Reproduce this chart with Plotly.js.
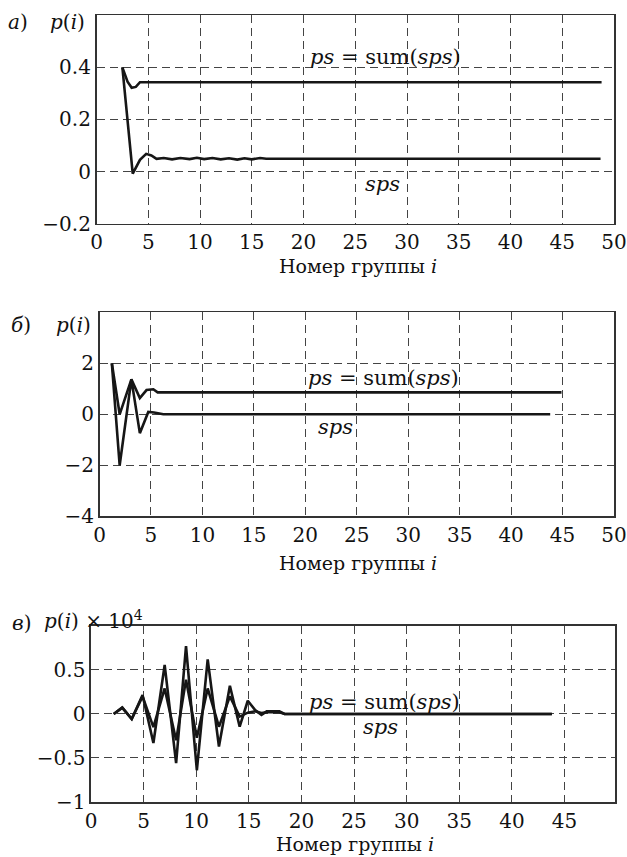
<!DOCTYPE html>
<html>
<head>
<meta charset="utf-8">
<script src="https://cdn.plot.ly/plotly-3.0.1.min.js"></script>
<style>html,body{margin:0;padding:0;background:#fff;}#chart{width:627px;height:857px;}</style>
</head>
<body>
<div id="chart"></div>
<script>
// ---- Panel а) ----
const aPsX  = [2.5, 3.0, 3.4, 3.8, 4.2, 48.8];
const aPsY  = [0.40, 0.345, 0.322, 0.325, 0.343, 0.343];
const aSpsX = [2.5, 3.5, 4.2, 4.8, 5.3, 5.8, 6.5, 7.3, 8.1, 9.0, 9.7, 10.4, 11.2, 12.0, 12.8, 13.6, 14.3, 15.0, 15.8, 16.4, 48.7];
const aSpsY = [0.40, -0.008, 0.045, 0.068, 0.062, 0.049, 0.052, 0.047, 0.052, 0.048, 0.053, 0.048, 0.052, 0.047, 0.051, 0.046, 0.051, 0.047, 0.052, 0.049, 0.049];

// ---- Panel б) ----
const bPsX  = [1.2, 1.96, 3.1, 3.92, 4.57, 5.23, 5.65, 44.9];
const bPsY  = [2, 0, 1.37, 0.64, 0.95, 0.98, 0.86, 0.86];
const bSpsX = [1.2, 1.96, 3.1, 3.92, 4.74, 5.3, 6.2, 43.8];
const bSpsY = [2, -2, 1.37, -0.74, 0.09, 0.07, 0, 0];

// ---- Panel в) (values ×10^4) ----
const cX    = [2.16, 2.97, 3.87, 4.9, 5.93, 7.0, 8.09, 9.03, 10.06, 11.09, 12.16, 13.2, 14.13, 14.9, 15.6, 16.2, 16.7, 17.9, 18.4, 43.8];
const cSpsY = [0, 0.072, -0.057, 0.216, -0.33, 0.557, -0.56, 0.77, -0.64, 0.62, -0.37, 0.32, -0.145, 0.15, 0.045, -0.01, 0.03, 0.03, 0, 0];
const cPsY  = [0, 0.072, -0.057, 0.20, -0.15, 0.29, -0.30, 0.39, -0.27, 0.29, -0.145, 0.20, -0.03, 0.015, 0.03, 0.01, 0.02, 0.02, 0, 0];

// ---- Tick labels ----
const xTicksAB = [0, 5, 10, 15, 20, 25, 30, 35, 40, 45, 50];
const xTicksC  = [0, 5, 10, 15, 20, 25, 30, 35, 40, 45];
const yTicksA = [-0.2, 0, 0.2, 0.4];
const yTextA  = ['\u22120.2', '0', '0.2', '0.4'];
const yTicksB = [-4, -2, 0, 2];
const yTextB  = ['\u22124', '\u22122', '0', '2'];
const yTicksC = [-1, -0.5, 0, 0.5];
const yTextC  = ['\u22121', '\u22120.5', '0', '0.5'];
const xTitle = 'Номер группы <i>i</i>';

const W = 627, H = 857;
const FONT = '"DejaVu Serif", serif';
const lineStyle = {color: '#161616', width: 2.6};

function tr(x, y, xa, ya, name) {
  return {x: x, y: y, xaxis: xa, yaxis: ya, name: name, type: 'scatter', mode: 'lines', line: lineStyle, hoverinfo: 'skip', showlegend: false};
}
const data = [
  tr(aPsX, aPsY, 'x', 'y', 'ps'), tr(aSpsX, aSpsY, 'x', 'y', 'sps'),
  tr(bPsX, bPsY, 'x2', 'y2', 'ps'), tr(bSpsX, bSpsY, 'x2', 'y2', 'sps'),
  tr(cX, cPsY, 'x3', 'y3', 'ps'), tr(cX, cSpsY, 'x3', 'y3', 'sps')
];

function dx(l, r) { return [l / W, r / W]; }
function dy(t, b) { return [1 - b / H, 1 - t / H]; }

const tickFont = {family: FONT, size: 20, color: '#111'};
function axisCommon() {
  return {tickmode: 'array', showline: true, mirror: true, linecolor: '#333', linewidth: 1.6, ticks: '', zeroline: false,
    showgrid: true, gridcolor: '#444', gridwidth: 1, griddash: '8px,5px', tickfont: tickFont,
    automargin: false, fixedrange: true, ticklabeloverflow: 'allow'};
}
function xax(dom, range, ticks, anchor) {
  return Object.assign(axisCommon(), {domain: dom, range: range, tickvals: ticks, ticktext: ticks.map(String), anchor: anchor});
}
function yax(dom, range, ticks, text, anchor) {
  return Object.assign(axisCommon(), {domain: dom, range: range, tickvals: ticks, ticktext: text, anchor: anchor});
}

function ann(text, x, y, size) {
  return {text: text, x: x / W, y: 1 - y / H, xref: 'paper', yref: 'paper', showarrow: false,
    xanchor: 'center', yanchor: 'middle', font: {family: FONT, size: size || 21, color: '#111'}};
}

const layout = {
  width: W, height: H,
  margin: {l: 0, r: 0, t: 0, b: 0},
  paper_bgcolor: '#fff', plot_bgcolor: '#fff',
  showlegend: false,
  xaxis:  xax(dx(96.5, 614), [-0.0001, 50.0001], xTicksAB, 'y'),
  yaxis:  yax(dy(15.3, 223.7), [-0.2001, 0.6], yTicksA, yTextA, 'x'),
  xaxis2: xax(dx(99.5, 614), [-0.0001, 50.0001], xTicksAB, 'y2'),
  yaxis2: yax(dy(312.3, 516.3), [-4.001, 4], yTicksB, yTextB, 'x2'),
  xaxis3: xax(dx(91, 615), [-0.0001, 49.8], xTicksC, 'y3'),
  yaxis3: yax(dy(626, 802), [-1.001, 1], yTicksC, yTextC, 'x3'),
  annotations: [
    ann('<i>а</i>)', 18, 22, 20), ann('<i>p</i>(<i>i</i>)', 67, 22, 20),
    ann('<i>ps</i> = sum(<i>sps</i>)', 385, 57), ann('<i>sps</i>', 382, 184),
    ann(xTitle, 358, 266, 19),
    ann('<i>б</i>)', 21, 325, 20), ann('<i>p</i>(<i>i</i>)', 73, 325, 20),
    ann('<i>ps</i> = sum(<i>sps</i>)', 383, 378), ann('<i>sps</i>', 335, 427),
    ann(xTitle, 358, 563, 19),
    ann('<i>в</i>)', 21, 623, 20), ann('<i>p</i>(<i>i</i>) × 10<sup>4</sup>', 93, 620, 20),
    ann('<i>ps</i> = sum(<i>sps</i>)', 384, 702), ann('<i>sps</i>', 381, 727),
    ann(xTitle, 355, 844, 19)
  ]
};

Plotly.newPlot('chart', data, layout, {displayModeBar: false, staticPlot: true});
</script>
</body>
</html>
